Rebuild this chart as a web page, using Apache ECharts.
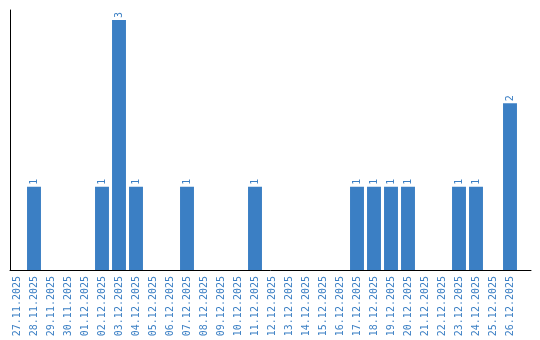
<!DOCTYPE html>
<html><head><meta charset="utf-8">
<script src="https://cdn.jsdelivr.net/npm/echarts@6/dist/echarts.min.js"></script>
<style>html,body{margin:0;padding:0;background:#fff}#c{width:540px;height:340px}</style>
</head><body><div id="c"></div>
<script>
const categories = ["27.11.2025","28.11.2025","29.11.2025","30.11.2025","01.12.2025","02.12.2025","03.12.2025","04.12.2025","05.12.2025","06.12.2025","07.12.2025","08.12.2025","09.12.2025","10.12.2025","11.12.2025","12.12.2025","13.12.2025","14.12.2025","15.12.2025","16.12.2025","17.12.2025","18.12.2025","19.12.2025","20.12.2025","21.12.2025","22.12.2025","23.12.2025","24.12.2025","25.12.2025","26.12.2025"];
const counts = [0,1,0,0,0,1,3,1,0,0,1,0,0,0,1,0,0,0,0,0,1,1,1,1,0,0,1,1,0,2];
const blue = '#3b7fc4';
const font = '"DejaVu Sans Mono", monospace';
const chart = echarts.init(document.getElementById('c'));
chart.setOption({
  animation:false,
  grid:[
    {left:8.5, width:510, top:10, bottom:70},
    {left:10, width:521, top:10, bottom:70}
  ],
  xAxis:[
    {type:'category', data:categories, gridIndex:0,
     axisLine:{show:false}, axisTick:{show:false},
     axisLabel:{rotate:90, interval:0, margin:6, color:blue, fontFamily:font, fontSize:10}},
    {type:'value', gridIndex:1, min:0, max:1, axisLine:{show:true, lineStyle:{color:'#000', width:1}},
     axisTick:{show:false}, axisLabel:{show:false}, splitLine:{show:false}}
  ],
  yAxis:[
    {type:'value', gridIndex:0, min:0, max:function(v){return v.max*1.04;}, offset:-1.5,
     axisLine:{show:true, lineStyle:{color:'#000', width:1}}, axisTick:{show:false},
     axisLabel:{show:false}, splitLine:{show:false}},
    {type:'value', gridIndex:1, show:false}
  ],
  series:[{
    type:'bar', data:counts.map(v=>v===0?{value:0,label:{show:false}}:v), barWidth:'82%',
    itemStyle:{color:blue},
    label:{show:true, position:'top', rotate:90, align:'left', verticalAlign:'middle', distance:2,
      color:blue, fontFamily:font, fontSize:10}
  }]
});
</script></body></html>
